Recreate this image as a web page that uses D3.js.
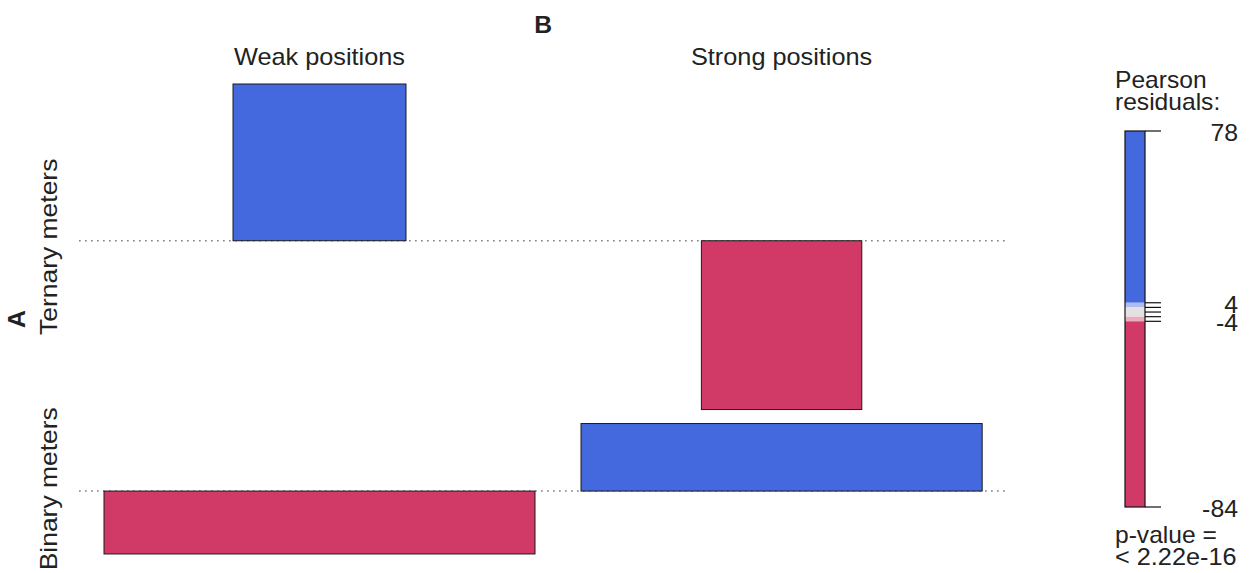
<!DOCTYPE html>
<html>
<head>
<meta charset="utf-8">
<script src="https://cdn.jsdelivr.net/npm/d3@7"></script>
<style>
  html, body { margin: 0; padding: 0; background: #fff; }
  svg { display: block; font-family: "Liberation Sans", Arial, Helvetica, sans-serif; }
</style>
</head>
<body>
<svg id="chart" width="1253" height="573"></svg>
<script>
// Association plot of meter type (A) by position strength (B)
const rowLevels = ["Ternary meters", "Binary meters"];
const colLevels = ["Weak positions", "Strong positions"];
// Pearson residuals, rows x columns
const residuals = [
  [78, -84],
  [-31.3, 33.6]
];
// Expected cell frequencies (bar width ~ sqrt(expected))
const expected = [
  [16400, 14100],
  [101800, 88200]
];
const legendTicks = [78, 4, 2, 0, -2, -4, -84];
const legendLabels = [78, 4, -4, -84];
const legendBreaks = [4, 2, -2, -4];
const pValueText = "< 2.22e-16";

const BLUE = "#4469DF", RED = "#D13A66";
const LIGHT_BLUE = "#AEBCEE", GREY = "#E3E1E1", PINK = "#E9AEBD";
const INK = "#222";

const svg = d3.select("#chart");

// text helper: places a label at (x, y) with an optional rotation and a slightly wide face
function label(parent, x, y, str, opts = {}) {
  const { size = 23, anchor = "start", rotate = 0, stretch = 1.1, weight = "normal", dy = null } = opts;
  const g = parent.append("g")
    .attr("transform", `translate(${x},${y}) rotate(${rotate}) scale(${stretch},1)`);
  const t = g.append("text")
    .attr("text-anchor", anchor).attr("font-size", size)
    .attr("font-weight", weight).attr("fill", INK).text(str);
  if (dy) t.attr("dy", dy);
  return g;
}

// ---- scales ----
const maxAbs = d3.max(residuals.flat(), d => Math.abs(d));
const yRes = d3.scaleLinear().domain([0, maxAbs]).range([0, 168.8]);
const xW = d3.scaleSqrt().domain([0, d3.max(expected.flat())]).range([0, 431]);

// row geometry: each row is tall enough for its largest positive and negative bars
const plotTop = 84, rowGap = 14;
const rows = [];
let yCursor = plotTop;
residuals.forEach(r => {
  const up = yRes(Math.max(0, d3.max(r)));
  const down = yRes(Math.max(0, -d3.min(r)));
  rows.push({ top: yCursor, base: yCursor + up, bottom: yCursor + up + down });
  yCursor += up + down + rowGap;
});

// column geometry: each column is as wide as its widest bar
const plotLeftCol = 104, colGap = 46, pad = 25;
const cols = [];
let xCursor = plotLeftCol;
colLevels.forEach((c, j) => {
  const w = d3.max(expected, r => xW(r[j]));
  cols.push({ left: xCursor, width: w, center: xCursor + w / 2 });
  xCursor += w + colGap;
});
const lineLeft = plotLeftCol - pad, lineRight = xCursor - colGap + pad - 2;

// ---- baselines ----
svg.append("g").selectAll("line").data(rows).join("line")
  .attr("x1", lineLeft).attr("x2", lineRight)
  .attr("y1", d => d.base).attr("y2", d => d.base)
  .attr("stroke", "#858585").attr("stroke-width", 1.5)
  .attr("stroke-dasharray", "1.7,4.3");

// ---- bars ----
const cells = [];
residuals.forEach((r, i) => r.forEach((v, j) => cells.push({ i, j, v, e: expected[i][j] })));
svg.append("g").selectAll("rect").data(cells).join("rect")
  .attr("x", d => cols[d.j].center - xW(d.e) / 2)
  .attr("width", d => xW(d.e))
  .attr("y", d => d.v >= 0 ? rows[d.i].base - yRes(d.v) : rows[d.i].base)
  .attr("height", d => yRes(Math.abs(d.v)))
  .attr("fill", d => d.v >= 4 ? BLUE : d.v <= -4 ? RED : GREY)
  .attr("stroke", "#1a1a1a").attr("stroke-width", 1);

// ---- labels ----
const lab = svg.append("g");
colLevels.forEach((c, j) => label(lab, cols[j].center, 65, c, { anchor: "middle" }));
label(lab, (cols[0].left + cols[1].left + cols[1].width) / 2, 33, "B",
  { anchor: "middle", size: 23.5, weight: "bold", stretch: 1.05 });
rowLevels.forEach((r, i) =>
  label(lab, 57, (rows[i].top + rows[i].bottom) / 2, r, { anchor: "middle", rotate: -90, stretch: 1.15 }));
label(lab, 25, (rows[0].top + rows[rows.length - 1].bottom) / 2, "A",
  { anchor: "middle", size: 23.5, weight: "bold", rotate: -90, stretch: 1.05 });

// ---- legend ----
const lg = svg.append("g");
const lx = 1125, lw = 20;
const lo = d3.min(legendTicks), hi = d3.max(legendTicks);
const yL = d3.scaleLinear().domain([lo, hi]).range([507, 131]);
const bands = [
  { from: legendBreaks[0], to: hi, fill: BLUE },
  { from: legendBreaks[1], to: legendBreaks[0], fill: LIGHT_BLUE },
  { from: legendBreaks[2], to: legendBreaks[1], fill: GREY },
  { from: legendBreaks[3], to: legendBreaks[2], fill: PINK },
  { from: lo, to: legendBreaks[3], fill: RED }
];
lg.selectAll("rect.band").data(bands).join("rect").attr("class", "band")
  .attr("x", lx).attr("width", lw)
  .attr("y", d => yL(d.to)).attr("height", d => yL(d.from) - yL(d.to))
  .attr("fill", d => d.fill);
lg.append("rect").attr("x", lx).attr("y", yL(hi)).attr("width", lw).attr("height", yL(lo) - yL(hi))
  .attr("fill", "none").attr("stroke", "#111").attr("stroke-width", 1.2);
lg.selectAll("line.tick").data(legendTicks).join("line").attr("class", "tick")
  .attr("x1", lx + lw).attr("x2", lx + lw + 16)
  .attr("y1", d => yL(d)).attr("y2", d => yL(d))
  .attr("stroke", "#111").attr("stroke-width", 1.2);
legendLabels.forEach(v =>
  label(lg, 1238, yL(v) + 2, String(v), { anchor: "end", dy: "0.35em", stretch: 1.08 }));
label(lg, 1115, 88, "Pearson", { stretch: 1.07 });
label(lg, 1115, 110, "residuals:", { stretch: 1.07 });
label(lg, 1115, 543, "p-value =", { stretch: 1.07 });
label(lg, 1115, 565, pValueText, { stretch: 1.1 });
</script>
</body>
</html>
